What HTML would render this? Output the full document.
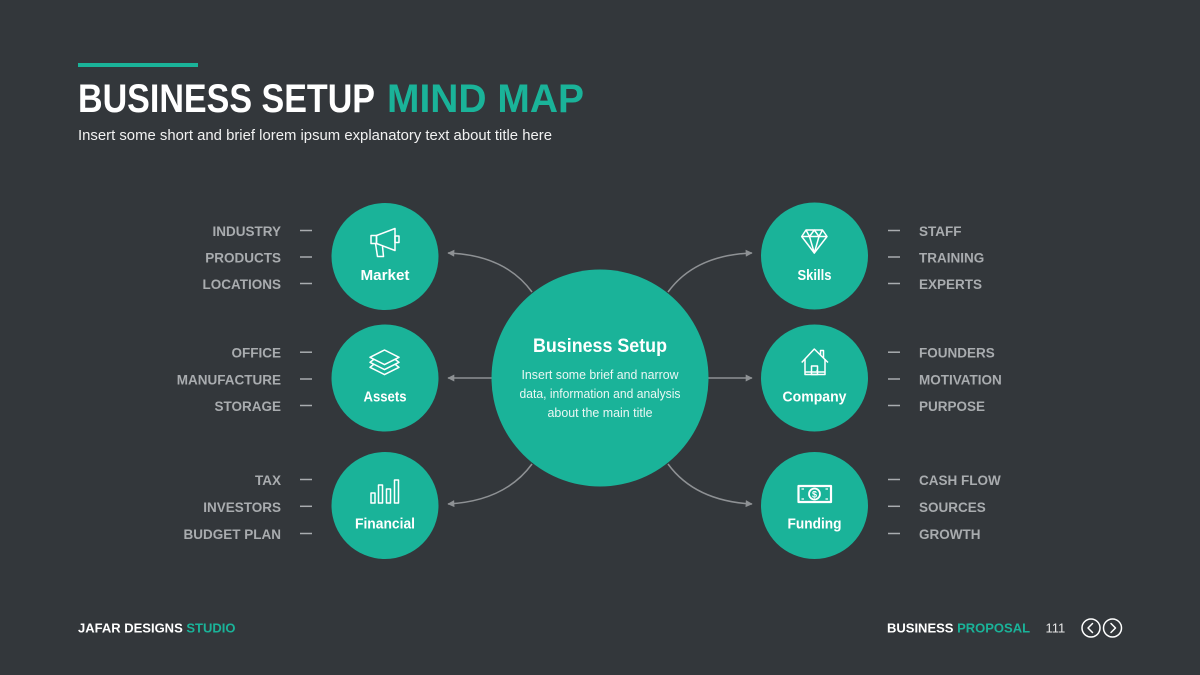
<!DOCTYPE html>
<html>
<head>
<meta charset="utf-8">
<style>
  html,body{margin:0;padding:0;background:#33373b;}
  svg{display:block;}
  text{font-family:"Liberation Sans", sans-serif;}
</style>
</head>
<body>
<svg width="1200" height="675" viewBox="0 0 1200 675" xmlns="http://www.w3.org/2000/svg">
  <defs>
    <marker id="ah" viewBox="0 0 10 10" refX="9" refY="5" markerWidth="8" markerHeight="7" markerUnits="userSpaceOnUse" orient="auto">
      <path d="M0,0 L10,5 L0,10 Z" fill="#8e9194"/>
    </marker>
  </defs>
  <rect x="0" y="0" width="1200" height="675" fill="#33373b"/>

  <!-- header -->
  <rect x="78" y="63" width="120" height="4" fill="#1ab399"/>
  <text x="78" y="112" font-size="40" font-weight="bold" fill="#ffffff" textLength="297" lengthAdjust="spacingAndGlyphs">BUSINESS SETUP</text>
  <text x="387" y="112" font-size="40" font-weight="bold" fill="#1ab399" textLength="197" lengthAdjust="spacingAndGlyphs">MIND MAP</text>
  <text x="78" y="140" font-size="14.5" fill="#f2f2f2" textLength="474" lengthAdjust="spacingAndGlyphs">Insert some short and brief lorem ipsum explanatory text about title here</text>

  <!-- connectors -->
  <g fill="none" stroke="#8e9194" stroke-width="1.5">
    <path d="M532 292 Q505 255 448 253" marker-end="url(#ah)"/>
    <path d="M492 378 L448 378" marker-end="url(#ah)"/>
    <path d="M532 464 Q505 501 448 504" marker-end="url(#ah)"/>
    <path d="M668 292 Q695 255 752 253" marker-end="url(#ah)"/>
    <path d="M708 378 L752 378" marker-end="url(#ah)"/>
    <path d="M668 464 Q695 501 752 504" marker-end="url(#ah)"/>
  </g>

  <!-- center circle -->
  <circle cx="600" cy="378" r="108.5" fill="#1ab399"/>
  <text x="600" y="352" font-size="19" font-weight="bold" fill="#ffffff" text-anchor="middle" textLength="134" lengthAdjust="spacingAndGlyphs">Business Setup</text>
  <text x="600" y="379" font-size="12.5" fill="#eaf7f4" text-anchor="middle" textLength="157" lengthAdjust="spacingAndGlyphs">Insert some brief and narrow</text>
  <text x="600" y="398" font-size="12.5" fill="#eaf7f4" text-anchor="middle" textLength="161" lengthAdjust="spacingAndGlyphs">data, information and analysis</text>
  <text x="600" y="417" font-size="12.5" fill="#eaf7f4" text-anchor="middle" textLength="105" lengthAdjust="spacingAndGlyphs">about the main title</text>

  <!-- small circles -->
  <g fill="#1ab399">
    <circle cx="385" cy="256.5" r="53.5"/>
    <circle cx="385" cy="378" r="53.5"/>
    <circle cx="385" cy="505.5" r="53.5"/>
    <circle cx="814.5" cy="256" r="53.5"/>
    <circle cx="814.5" cy="378" r="53.5"/>
    <circle cx="814.5" cy="505.5" r="53.5"/>
  </g>

  <!-- circle labels -->
  <g font-size="15" font-weight="bold" fill="#ffffff" text-anchor="middle">
    <text x="385" y="280" textLength="49" lengthAdjust="spacingAndGlyphs">Market</text>
    <text x="385" y="401.5" textLength="43" lengthAdjust="spacingAndGlyphs">Assets</text>
    <text x="385" y="528.5" textLength="60" lengthAdjust="spacingAndGlyphs">Financial</text>
    <text x="814.5" y="280" textLength="34" lengthAdjust="spacingAndGlyphs">Skills</text>
    <text x="814.5" y="401.5" textLength="64" lengthAdjust="spacingAndGlyphs">Company</text>
    <text x="814.5" y="528.5" textLength="54" lengthAdjust="spacingAndGlyphs">Funding</text>
  </g>

  <!-- icons -->
  <g fill="none" stroke="#ffffff" stroke-width="1.5" stroke-linejoin="round">
    <!-- megaphone -->
    <rect x="371" y="235.5" width="5.5" height="8"/>
    <path d="M376.5 235.5 L395 228.5 L395 250.5 L376.5 243.5 Z"/>
    <rect x="395" y="236" width="4" height="6.5"/>
    <path d="M375.5 243.5 L377.5 256.5 L383.5 256.5 L382.5 246.5"/>
    <!-- layers -->
    <path d="M384.5 350 L399 357.3 L384.5 364.6 L370 357.3 Z"/>
    <path d="M373.5 359.6 L370 362.3 L384.5 369.6 L399 362.3 L395.5 359.6"/>
    <path d="M373.5 364.6 L370 367.3 L384.5 374.6 L399 367.3 L395.5 364.6"/>
    <!-- bars -->
    <rect x="371" y="493" width="4" height="10"/>
    <rect x="378.5" y="485" width="4" height="18"/>
    <rect x="386.5" y="489" width="4" height="14"/>
    <rect x="394.5" y="480" width="4" height="23"/>
    <!-- diamond -->
    <path d="M806 230 L822.5 230 L827 236.5 L814.3 253 L801.7 236.5 Z"/>
    <path d="M801.7 236.5 L827 236.5"/>
    <path d="M806 230 L809.5 236.5 L814.3 253 L819 236.5 L822.5 230"/>
    <path d="M809.5 236.5 L814.3 230 L819 236.5"/>
    <!-- house -->
    <path d="M801.7 362.5 L814.3 349 L828 362.5"/>
    <path d="M820.5 355 L820.5 350.5 L823.5 350.5 L823.5 358"/>
    <path d="M805 359 L805 374.5 L825 374.5 L825 359"/>
    <path d="M805 372 L825 372"/>
    <rect x="811.5" y="366" width="6" height="8.5"/>
    <!-- bill -->
    <rect x="798.5" y="486" width="32.5" height="16" stroke-width="2.2"/>
    <circle cx="814.5" cy="494" r="5.5" stroke-width="1.8"/>
    <path d="M801.5 489 L804 489 M828 489 L825.5 489 M801.5 499 L804 499 M828 499 L825.5 499" stroke-width="1.3"/>
  </g>
  <text x="814.5" y="497.5" font-size="9" font-weight="bold" fill="#ffffff" text-anchor="middle">$</text>
  <circle cx="817" cy="370.5" r="0.7" fill="#ffffff"/>

  <!-- side labels -->
  <g font-size="13.5" font-weight="bold" fill="#a9acaf">
    <g text-anchor="end">
      <text x="281" y="236">INDUSTRY</text>
      <text x="281" y="262.3">PRODUCTS</text>
      <text x="281" y="289">LOCATIONS</text>
      <text x="281" y="357.7">OFFICE</text>
      <text x="281" y="384.3">MANUFACTURE</text>
      <text x="281" y="411">STORAGE</text>
      <text x="281" y="485">TAX</text>
      <text x="281" y="511.8">INVESTORS</text>
      <text x="281" y="539">BUDGET PLAN</text>
    </g>
    <text x="919" y="236">STAFF</text>
    <text x="919" y="262.3">TRAINING</text>
    <text x="919" y="289">EXPERTS</text>
    <text x="919" y="357.7">FOUNDERS</text>
    <text x="919" y="384.3">MOTIVATION</text>
    <text x="919" y="411">PURPOSE</text>
    <text x="919" y="485">CASH FLOW</text>
    <text x="919" y="511.8">SOURCES</text>
    <text x="919" y="539">GROWTH</text>
  </g>

  <!-- dashes -->
  <g stroke="#a9acaf" stroke-width="1.5">
    <line x1="300" y1="230.5" x2="312" y2="230.5"/>
    <line x1="300" y1="257" x2="312" y2="257"/>
    <line x1="300" y1="283.5" x2="312" y2="283.5"/>
    <line x1="300" y1="352.2" x2="312" y2="352.2"/>
    <line x1="300" y1="379" x2="312" y2="379"/>
    <line x1="300" y1="405.5" x2="312" y2="405.5"/>
    <line x1="300" y1="479.5" x2="312" y2="479.5"/>
    <line x1="300" y1="506.3" x2="312" y2="506.3"/>
    <line x1="300" y1="533.5" x2="312" y2="533.5"/>
    <line x1="888" y1="230.5" x2="900" y2="230.5"/>
    <line x1="888" y1="257" x2="900" y2="257"/>
    <line x1="888" y1="283.5" x2="900" y2="283.5"/>
    <line x1="888" y1="352.2" x2="900" y2="352.2"/>
    <line x1="888" y1="379" x2="900" y2="379"/>
    <line x1="888" y1="405.5" x2="900" y2="405.5"/>
    <line x1="888" y1="479.5" x2="900" y2="479.5"/>
    <line x1="888" y1="506.3" x2="900" y2="506.3"/>
    <line x1="888" y1="533.5" x2="900" y2="533.5"/>
  </g>

  <!-- footer -->
  <text x="78" y="632.5" font-size="13" font-weight="bold" fill="#ffffff">JAFAR DESIGNS <tspan fill="#1ab399">STUDIO</tspan></text>
  <text x="887" y="632.5" font-size="13" font-weight="bold" fill="#ffffff">BUSINESS <tspan fill="#1ab399">PROPOSAL</tspan></text>
  <text x="1045.5" y="632.5" font-size="13" fill="#e6e6e6">111</text>
  <g fill="none" stroke="#ffffff" stroke-width="1.5" stroke-linecap="round" stroke-linejoin="round">
    <circle cx="1091" cy="628" r="9"/>
    <circle cx="1112.5" cy="628" r="9"/>
    <path d="M1092.5 623.5 L1088 628 L1092.5 632.5"/>
    <path d="M1111 623.5 L1115.5 628 L1111 632.5"/>
  </g>
</svg>
</body>
</html>
